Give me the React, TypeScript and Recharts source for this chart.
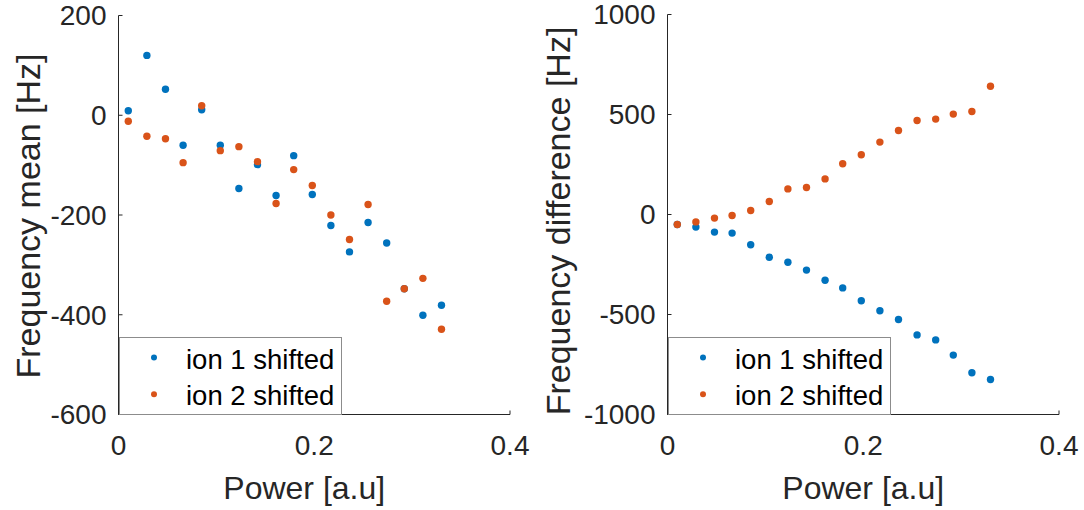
import { ScatterChart, Scatter, XAxis, YAxis, Legend } from "recharts";

// power steps (x) shared by both panels
const power = [0.01, 0.029, 0.048, 0.066, 0.085, 0.104, 0.123, 0.142, 0.161, 0.179, 0.198, 0.217, 0.236, 0.255, 0.274, 0.292, 0.311, 0.33];

// left panel: frequency mean [Hz]
const meanIon1 = [9, 120, 52, -60, 11, -60, -147, -99, -161, -81, -159, -221, -274, -215, -256, -348, -401, -381];
const meanIon2 = [-12, -42, -47, -95, 19, -71, -63, -93, -177, -109, -141, -200, -249, -179, -373, -348, -327, -429];

// right panel: frequency difference [Hz]
const diffIon1 = [-50, -63, -88, -93, -151, -214, -239, -278, -329, -367, -431, -481, -525, -602, -627, -703, -791, -825];
const diffIon2 = [-50, -37, -18, -5, 20, 65, 128, 135, 178, 254, 299, 362, 420, 470, 477, 502, 515, 641];

const xTicks = [0, 0.2, 0.4];
const meanTicks = [-600, -400, -200, 0, 200];
const diffTicks = [-1000, -500, 0, 500, 1000];

const seriesNames = ["ion 1 shifted", "ion 2 shifted"];

const BLUE = "#0072BD";
const ORANGE = "#D95319";
const INK = "#262626";
const FONT = '"Liberation Sans", Arial, Helvetica, sans-serif';

const toPoints = (ys: number[]) => power.map((x, i) => ({ x, y: ys[i] }));

const Dot = (props: any) => <circle cx={props.cx} cy={props.cy} r={3.7} fill={props.fill} />;

function YTitle({ viewBox, text, baseX, centerY }: any) {
  const cx = viewBox.x + baseX;
  const cy = centerY;
  return (
    <text x={cx} y={cy} transform={`rotate(-90 ${cx} ${cy})`} textAnchor="middle" fill={INK} fontSize={34} fontFamily={FONT}>
      {text}
    </text>
  );
}

function XTitle({ viewBox, text, shift }: any) {
  return (
    <text x={viewBox.x + viewBox.width / 2 + shift} y={viewBox.y + viewBox.height - 11} textAnchor="middle" fill={INK} fontSize={32} fontFamily={FONT}>
      {text}
    </text>
  );
}

function LegendBox({ payload, width, markerX, textX }: any) {
  const rows = [20.6, 57.3];
  return (
    <svg width={width} height={78} style={{ display: "block" }}>
      <rect x={0.5} y={0.5} width={width - 1} height={77} fill="#fff" stroke="#8c8c8c" />
      {(payload || []).map((p: any, i: number) => (
        <g key={p.value}>
          <circle cx={markerX} cy={rows[i]} r={3} fill={p.color} />
          <text x={textX} y={rows[i] + 11} fontSize={27.5} fill="#000" fontFamily={FONT}>
            {p.value}
          </text>
        </g>
      ))}
    </svg>
  );
}

interface PanelProps {
  left: number;
  width: number;
  ion1: number[];
  ion2: number[];
  yDomain: [number, number];
  yTicks: number[];
  yLabel: string;
  axisWidth: number;
  top: number;
  right: number;
  titleX: number;
  titleY: number;
  xShift: number;
}

function Panel({ left, width, ion1, ion2, yDomain, yTicks, yLabel, axisWidth, top, right, titleX, titleY, xShift }: PanelProps) {
  return (
    <div style={{ position: "absolute", left, top: 0 }}>
      <ScatterChart width={width} height={510} margin={{ top, right, bottom: 0, left: 0 }}>
        <XAxis
          type="number"
          dataKey="x"
          domain={[0, 0.4]}
          ticks={xTicks}
          interval={0}
          height={95.5}
          stroke={INK}
          tickSize={-4}
          tickMargin={25}
          tick={{ fill: INK, fontSize: 28, fontFamily: FONT }}
          tickFormatter={(v: number) => String(v)}
          label={<XTitle text="Power [a.u]" shift={xShift} />}
        />
        <YAxis
          type="number"
          dataKey="y"
          domain={yDomain}
          ticks={yTicks}
          interval={0}
          width={axisWidth}
          stroke={INK}
          tickSize={-4}
          tickMargin={16}
          tick={{ fill: INK, fontSize: 28, fontFamily: FONT }}
          allowDataOverflow
          label={<YTitle text={yLabel} baseX={titleX} centerY={titleY} />}
        />
        <Legend
          layout="vertical"
          align="center"
          verticalAlign="middle"
          wrapperStyle={{ left: axisWidth + 0.5, top: 336.7, width: 223, height: 78 }}
          content={(props: any) => <LegendBox payload={props.payload} width={223} markerX={35} textX={67} />}
        />
        <Scatter name={seriesNames[0]} data={toPoints(ion1)} fill={BLUE} shape={Dot} isAnimationActive={false} />
        <Scatter name={seriesNames[1]} data={toPoints(ion2)} fill={ORANGE} shape={Dot} isAnimationActive={false} />
      </ScatterChart>
    </div>
  );
}

export default function App() {
  return (
    <div style={{ position: "absolute", left: 0, top: 0, width: 1084, height: 510, background: "#fff", fontFamily: FONT }}>
      <Panel
        left={0}
        width={542}
        ion1={meanIon1}
        ion2={meanIon2}
        yDomain={[-600, 200]}
        yTicks={meanTicks}
        yLabel="Frequency mean [Hz]"
        axisWidth={118.5}
        top={15.5}
        right={32}
        titleX={39.5}
        titleY={216}
        xShift={-10}
      />
      <Panel
        left={522}
        width={562}
        ion1={diffIon1}
        ion2={diffIon2}
        yDomain={[-1000, 1000]}
        yTicks={diffTicks}
        yLabel="Frequency difference [Hz]"
        axisWidth={145.5}
        top={14.5}
        right={25}
        titleX={48}
        titleY={221}
        xShift={0}
      />
    </div>
  );
}
